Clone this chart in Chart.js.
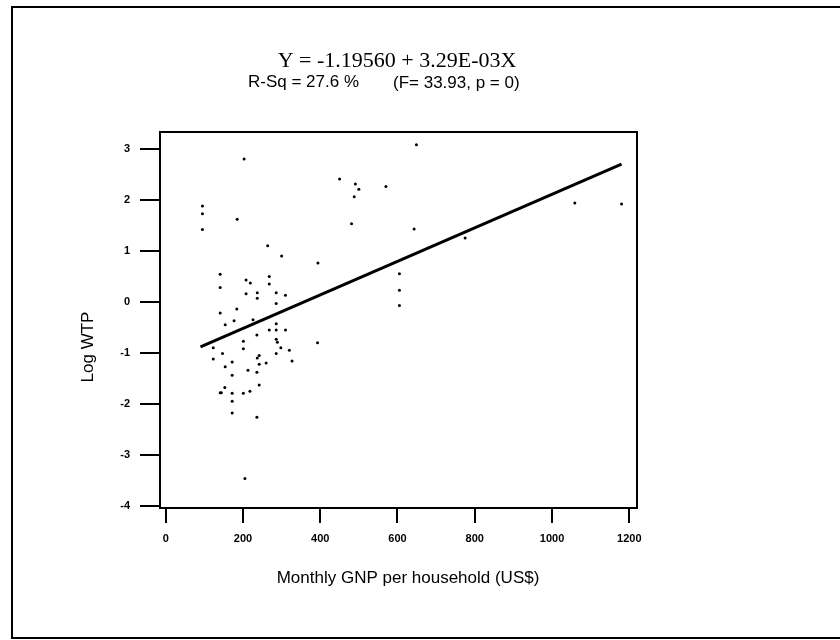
<!DOCTYPE html>
<html>
<head>
<meta charset="utf-8">
<script src="https://cdn.jsdelivr.net/npm/chart.js@4"></script>
<style>
  body { margin: 0; background: #fff; }
  #wrap { width: 840px; height: 640px; position: relative; }
</style>
</head>
<body>
<div id="wrap"><canvas id="chartWtp"></canvas></div>
<script>
/* values */
const gnp = [203, 95, 95, 95, 185, 450, 491, 500, 488, 481, 264, 300, 394, 141, 141, 208, 219, 268, 268, 208,
  237, 237, 286, 310, 286, 184, 141, 177, 154, 226, 286, 268, 286, 310, 236, 123, 201, 201, 286, 289,
  298, 393, 147, 123, 172, 237, 242, 242, 260, 286, 320, 327, 154, 213, 236, 172, 242, 153, 141, 144,
  172, 201, 218, 172, 172, 236, 205, 649, 570, 643, 605, 605, 605, 775, 1059, 1180];
const logWtp = [2.80, 1.88, 1.73, 1.42, 1.62, 2.41, 2.31, 2.21, 2.06, 1.53, 1.10, 0.90, 0.76, 0.54, 0.28, 0.43, 0.37, 0.50, 0.35, 0.16,
  0.18, 0.07, 0.18, 0.13, -0.03, -0.14, -0.22, -0.37, -0.45, -0.35, -0.43, -0.55, -0.55, -0.55, -0.65, -0.90, -0.77, -0.92, -0.73, -0.79,
  -0.90, -0.80, -1.01, -1.12, -1.18, -1.10, -1.05, -1.22, -1.20, -1.01, -0.95, -1.16, -1.27, -1.34, -1.38, -1.44, -1.63, -1.68, -1.78, -1.78,
  -1.79, -1.79, -1.75, -1.95, -2.18, -2.26, -3.46, 3.08, 2.26, 1.43, 0.55, 0.23, -0.07, 1.25, 1.94, 1.92];
const fitX = [90, 1180];
const fitY = [-0.88, 2.70];
const xTicks = [0, 200, 400, 600, 800, 1000, 1200];
const yTicks = [-4, -3, -2, -1, 0, 1, 2, 3];
const titleText = 'Y = -1.19560 + 3.29E-03X';
const rsqText = 'R-Sq = 27.6 %';
const statText = '(F= 33.93, p = 0)';
const xTitle = 'Monthly GNP per household (US$)';
const yTitle = 'Log WTP';

function getPoints(xs, ys) {
  let result = [];
  for (let i = 0; i < xs.length; i++) {
    result.push({ x: xs[i], y: ys[i] });
  }
  return result;
}

/* frame, plot box and the texts */
const decorPlugin = {
  id: 'decor',
  afterDraw(chart) {
    const ctx = chart.ctx;
    const area = chart.chartArea;
    ctx.save();
    ctx.strokeStyle = '#000';
    ctx.lineWidth = 2;
    ctx.beginPath();
    ctx.moveTo(840, 7); ctx.lineTo(12, 7); ctx.lineTo(12, 638); ctx.lineTo(840, 638);
    ctx.stroke();
    ctx.strokeRect(area.left, area.top, area.right - area.left, area.bottom - area.top);

    ctx.fillStyle = '#000';
    ctx.textBaseline = 'middle';
    ctx.textAlign = 'center';
    ctx.font = '22px "Liberation Serif"';
    ctx.fillText(titleText, 397, 61);
    ctx.textAlign = 'left';
    ctx.font = '17px "Liberation Sans"';
    ctx.fillText(rsqText, 248, 82);
    ctx.fillText(statText, 393, 83);
    ctx.textAlign = 'center';
    ctx.font = '17px "Liberation Sans"';
    ctx.fillText(xTitle, 408, 578);
    ctx.translate(88, 347);
    ctx.rotate(-Math.PI / 2);
    ctx.fillText(yTitle, 0, 0);
    ctx.restore();
  }
};

const data = {
  datasets: [
    {
      type: 'scatter',
      label: 'Log WTP',
      data: getPoints(gnp, logWtp),
      backgroundColor: '#000',
      borderColor: '#000',
      pointRadius: 1.5,
      borderWidth: 0,
    },
    {
      type: 'line',
      label: 'Fit',
      data: getPoints(fitX, fitY),
      borderColor: '#000',
      borderWidth: 3,
      pointRadius: 0,
      fill: false,
    },
  ]
};

const tickFont = { family: 'Liberation Sans', size: 11, weight: 'bold' };

const config = {
  type: 'scatter',
  data: data,
  plugins: [decorPlugin],
  options: {
    responsive: true,
    maintainAspectRatio: false,
    animation: false,
    layout: { padding: { left: 0, top: 132, right: 203, bottom: 0 } },
    plugins: { legend: { display: false }, tooltip: { enabled: false } },
    scales: {
      x: {
        type: 'linear',
        min: -14.8,
        max: 1220,
        afterFit: function (scale) { scale.height = 132; },
        afterBuildTicks: function (scale) { scale.ticks = xTicks.map(v => ({ value: v })); },
        ticks: { font: tickFont, color: '#000', padding: 9, maxRotation: 0, callback: v => String(v) },
        grid: { drawOnChartArea: false, drawTicks: true, tickLength: 15, color: '#000', lineWidth: 2 },
        border: { display: true, color: '#000', width: 2 },
      },
      y: {
        type: 'linear',
        min: -4.04,
        max: 3.33,
        afterFit: function (scale) { scale.width = 160; },
        afterBuildTicks: function (scale) { scale.ticks = yTicks.map(v => ({ value: v })); },
        ticks: { font: tickFont, color: '#000', padding: 10, callback: v => String(v) },
        grid: { drawOnChartArea: false, drawTicks: true, tickLength: 20, color: '#000', lineWidth: 2 },
        border: { display: true, color: '#000', width: 2 },
      }
    }
  }
};

const ctx = document.getElementById('chartWtp').getContext('2d');
const chartWtp = new Chart(ctx, config);
</script>
</body>
</html>
